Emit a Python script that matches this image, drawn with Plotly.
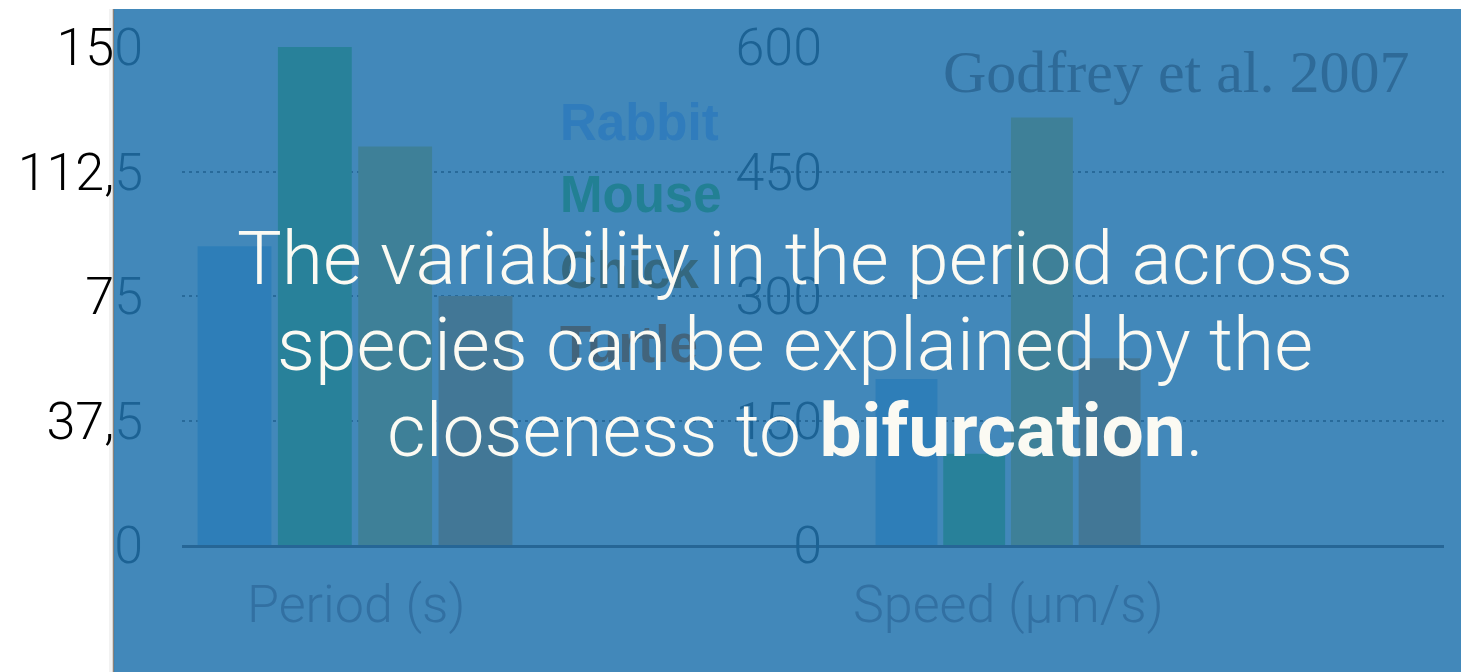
import plotly.graph_objects as go

# ---- data -------------------------------------------------------------
species = ["Rabbit", "Mouse", "Chick", "Turtle"]
period_s = [90, 150, 120, 75]          # oscillation period (s)
speed_um_s = [200, 110, 515, 225]      # wave speed (um/s)

period_ticks = [0, 37.5, 75, 112.5, 150]
period_ticktext = ["0", "37,5", "75", "112,5", "150"]
speed_ticks = [0, 150, 300, 450, 600]
speed_ticktext = ["0", "150", "300", "450", "600"]

headline = ["The variability in the period across",
            "species can be explained by the",
            "closeness to <b>bifurcation</b>."]
source_note = "Godfrey et al. 2007"

# ---- styling ----------------------------------------------------------
W, H = 1461, 672
PANEL_RGB = (66, 136, 186)     # colour of the translucent panel over white
VEIL_ALPHA = 0.85

bar_shades = {               # how each species reads on the blue panel
    "Rabbit": (46, 126, 184),
    "Mouse": (40, 129, 154),
    "Chick": (62, 128, 152),
    "Turtle": (70, 119, 150),
}
grid_shade = (40, 106, 154)
baseline_shade = (38, 102, 150)
legend_shades = {
    "Rabbit": "rgb(48,124,188)",
    "Mouse": "rgb(34,128,148)",
    "Chick": "rgb(52,104,128)",
    "Turtle": "rgb(66,100,124)",
}


def veil_rgb():
    return tuple((p - (1 - VEIL_ALPHA) * 255) / VEIL_ALPHA for p in PANEL_RGB)


def under_veil(rgb):
    """Colour to paint beneath the translucent panel so it reads as `rgb`."""
    out = []
    for c, p in zip(rgb, PANEL_RGB):
        val = 255 + (c - p) / (1 - VEIL_ALPHA)
        out.append(int(round(min(255, max(0, val)))))
    return "rgb(%d,%d,%d)" % tuple(out)


def px(x):
    return x / W


def py(y):
    return 1 - y / H


LIGHT = "Roboto"
x_dom = [px(182), px(1444)]
y_dom = [py(545), py(47)]

fig = go.Figure()

fig.add_trace(go.Bar(
    x=list(range(len(species))), y=period_s,
    width=0.92,
    marker=dict(color=[under_veil(bar_shades[s]) for s in species], line_width=0),
    xaxis="x", yaxis="y", showlegend=False, hoverinfo="skip",
))
fig.add_trace(go.Bar(
    x=list(range(len(species))), y=speed_um_s,
    width=0.915,
    marker=dict(color=[under_veil(bar_shades[s]) for s in species], line_width=0),
    xaxis="x2", yaxis="y2", showlegend=False, hoverinfo="skip",
))

# ---- axes -------------------------------------------------------------
p1 = 80.33   # pixels per category, period panel
p2 = 67.7    # pixels per category, speed panel
span = 1444 - 182
r1_lo = -(234.5 - 182) / p1
r2_lo = -(906.5 - 182) / p2

tick_font = dict(family=LIGHT, size=52, color="black", weight=300)

fig.update_layout(
    width=W, height=H, autosize=False,
    margin=dict(l=0, r=0, t=0, b=0, pad=0),
    paper_bgcolor="white", plot_bgcolor="rgba(0,0,0,0)",
    barmode="overlay",
    xaxis=dict(domain=x_dom, range=[r1_lo, r1_lo + span / p1], automargin=False,
               showgrid=False, zeroline=False, showticklabels=False,
               ticks="", showline=True, linecolor=under_veil(baseline_shade),
               linewidth=3, fixedrange=True),
    yaxis=dict(domain=y_dom, range=[0, 150], anchor="x", automargin=False,
               tickvals=period_ticks, ticktext=period_ticktext,
               tickfont=tick_font, ticks="", ticklabelstandoff=38,
               showgrid=True, gridcolor=under_veil(grid_shade), gridwidth=1.5,
               griddash="3px,4px", zeroline=False, showline=False,
               fixedrange=True),
    xaxis2=dict(domain=x_dom, range=[r2_lo, r2_lo + span / p2], automargin=False,
                overlaying="x", anchor="y2", visible=False, fixedrange=True),
    yaxis2=dict(domain=y_dom, range=[0, 600], overlaying="y", automargin=False,
                anchor="free", position=px(822), side="left",
                tickvals=speed_ticks, ticktext=speed_ticktext,
                tickfont=tick_font, ticks="", showgrid=False,
                zeroline=False, showline=False, fixedrange=True),
)

# ---- translucent blue panel and its edge shadow ----------------------
veil = "rgba(%d,%d,%d,%.2f)" % (*[round(v) for v in veil_rgb()], VEIL_ALPHA)
fig.add_shape(type="rect", xref="paper", yref="paper",
              x0=px(109), x1=px(113), y0=0, y1=py(9),
              fillcolor="rgba(0,0,0,0.05)", line_width=0, layer="above")
fig.add_shape(type="line", xref="paper", yref="paper",
              x0=px(113.5), x1=px(113.5), y0=0, y1=py(9),
              line=dict(color="rgba(110,100,90,0.8)", width=1.5), layer="above")
fig.add_shape(type="rect", xref="paper", yref="paper",
              x0=px(114), x1=1, y0=0, y1=py(9),
              fillcolor=veil, line_width=0, layer="above")

# ---- text on the panel -------------------------------------------------
title_font = dict(family=LIGHT, size=52, color="rgb(50,112,162)", weight=300)
ann = []
ann.append(dict(text="Period (s)", x=px(356), y=py(604), xref="paper", yref="paper",
                showarrow=False, xanchor="center", yanchor="middle", font=title_font))
ann.append(dict(text="Speed (μm/s)", x=px(1008), y=py(604), xref="paper", yref="paper",
                showarrow=False, xanchor="center", yanchor="middle", font=title_font))
ann.append(dict(text=source_note, x=px(1176), y=py(72), xref="paper", yref="paper",
                showarrow=False, xanchor="center", yanchor="middle",
                font=dict(family="Liberation Serif", size=60, color="rgb(46,106,152)")))

legend_y = [122, 195, 270, 344]
for s, yy in zip(species, legend_y):
    ann.append(dict(text="<b>%s</b>" % s, x=px(558), y=py(yy), xref="paper", yref="paper",
                    showarrow=False, xanchor="left", yanchor="middle",
                    font=dict(family="Liberation Sans", size=51, color=legend_shades[s])))

line_y = [258, 344, 430]
for t, yy in zip(headline, line_y):
    ann.append(dict(text=t, x=px(795), y=py(yy), xref="paper", yref="paper",
                    showarrow=False, xanchor="center", yanchor="middle",
                    font=dict(family=LIGHT, size=75, color="#fbfaf3", weight=300)))

fig.update_layout(annotations=ann)

fig.write_html("out.html")
